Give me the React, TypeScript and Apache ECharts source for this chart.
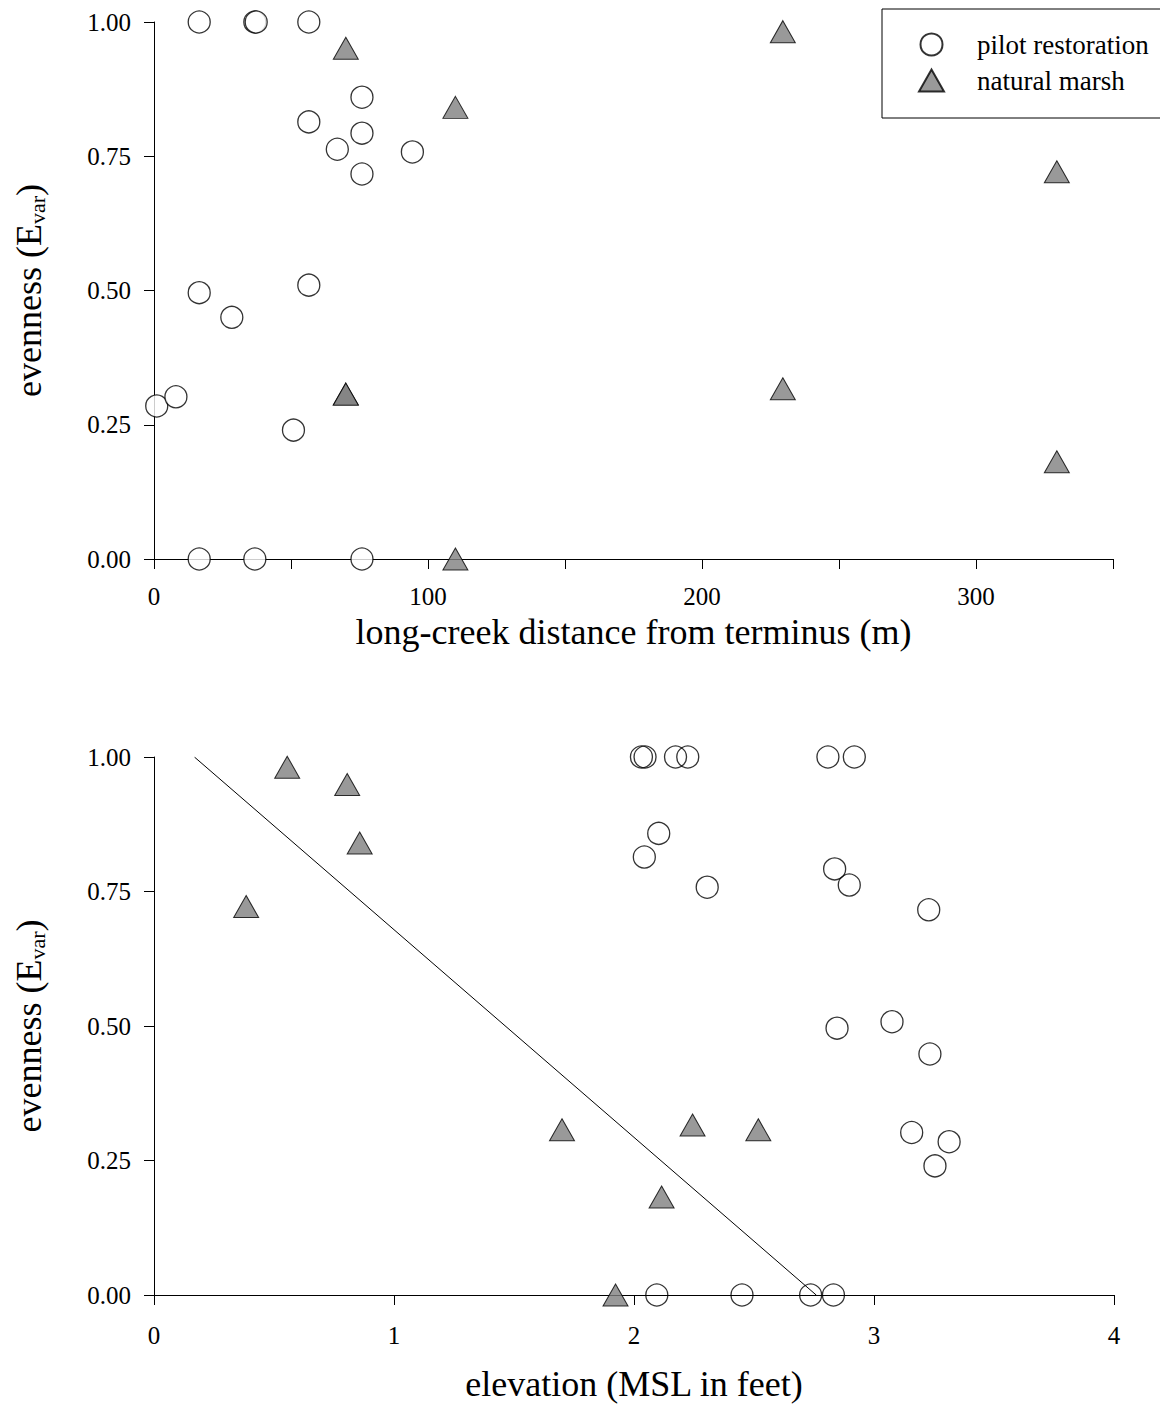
import React, { useEffect, useRef } from "react";
import * as echarts from "echarts";

const FONT = '"Liberation Serif", "Times New Roman", Times, serif';

// Upper panel: evenness vs long-creek distance from the terminus (m)
const distPilotX = [16.5, 36.8, 37.3, 56.5, 56.5, 75.9, 75.9, 66.9, 75.9, 94.3, 16.5, 28.4, 56.5, 1, 8, 50.9, 16.5, 36.8, 75.9];
const distPilotY = [1, 1, 1, 1, 0.814, 0.86, 0.793, 0.763, 0.717, 0.758, 0.496, 0.45, 0.51, 0.285, 0.302, 0.24, 0, 0, 0];
const distMarshX = [70, 110, 229.5, 329.5, 70, 70, 229.5, 329.5, 110];
const distMarshY = [0.951, 0.841, 0.982, 0.721, 0.307, 0.307, 0.317, 0.181, 0];

// Lower panel: evenness vs elevation (MSL in feet)
const elevPilotX = [2.031, 2.046, 2.173, 2.224, 2.808, 2.918, 2.103, 2.043, 2.305, 2.836, 2.897, 3.228, 2.846, 3.075, 3.233, 3.157, 3.313, 3.254, 2.095, 2.45, 2.736, 2.831];
const elevPilotY = [1, 1, 1, 1, 1, 1, 0.858, 0.814, 0.758, 0.792, 0.762, 0.716, 0.496, 0.508, 0.448, 0.302, 0.285, 0.24, 0, 0, 0, 0];
const elevMarshX = [0.555, 0.805, 0.857, 0.384, 1.7, 2.244, 2.518, 2.115, 1.923];
const elevMarshY = [0.981, 0.949, 0.84, 0.722, 0.307, 0.316, 0.307, 0.182, 0];

// Fitted line drawn over the elevation panel
const fitIntercept = 1.065;
const fitSlope = -0.386;
const fitRange = [0.169, 2.76];

const seriesNames = ["pilot restoration", "natural marsh"];
const yTitle = "{a|evenness (E}{b|var}{a|)}";
const distTitle = "long-creek distance from terminus (m)";
const elevTitle = "elevation (MSL in feet)";

const zip = (xs: number[], ys: number[]) => xs.map((x, i) => [x, ys[i]]);

const axisLine = { show: true, onZero: false, lineStyle: { color: "#000", width: 1 } };
const axisTick = { show: true, inside: false, length: 10, lineStyle: { color: "#000", width: 1 } };
const tickLabel = { color: "#000", fontFamily: FONT, fontSize: 25 };

const yAxisFor = (gridIndex: number) => ({
  type: "value",
  gridIndex,
  min: 0,
  max: 1,
  interval: 0.25,
  axisLine,
  axisTick,
  splitLine: { show: false },
  axisLabel: { ...tickLabel, margin: 23, formatter: (v: number) => v.toFixed(2) },
  name: yTitle,
  nameLocation: "middle",
  nameGap: 106,
  nameRotate: 90,
  nameTextStyle: {
    color: "#000",
    fontFamily: FONT,
    rich: {
      a: { fontFamily: FONT, fontSize: 36, lineHeight: 38, color: "#000" },
      b: { fontFamily: FONT, fontSize: 22, lineHeight: 14, color: "#000", verticalAlign: "bottom" },
    },
  },
});

const circleStyle = { color: "#fff", borderColor: "#000", borderWidth: 1.3 };
const triangleStyle = { color: "#808080", borderColor: "#000", borderWidth: 1 };

export default function App() {
  const ref = useRef<HTMLDivElement>(null);

  useEffect(() => {
    if (!ref.current) return;
    const chart = echarts.init(ref.current, null, { renderer: "svg" });

    chart.setOption({
      animation: false,
      backgroundColor: "#fff",
      grid: [
        { left: 154, top: 22, width: 959, height: 537 },
        { left: 154, top: 757, width: 960, height: 538 },
      ],
      legend: {
        data: seriesNames,
        orient: "vertical",
        left: 882,
        top: 9,
        itemWidth: 25,
        itemHeight: 22,
        itemGap: 9,
        padding: [22, 40, 24, 36],
        borderColor: "#000",
        borderWidth: 1,
        selectedMode: false,
        textStyle: { color: "#000", fontFamily: FONT, fontSize: 27, padding: [0, 0, 0, 28] },
      },
      xAxis: [
        {
          type: "value",
          gridIndex: 0,
          min: 0,
          max: 350,
          interval: 50,
          axisLine,
          axisTick,
          splitLine: { show: false },
          axisLabel: {
            ...tickLabel,
            margin: 25,
            formatter: (v: number) => (v % 100 === 0 ? String(v) : ""),
          },
          name: distTitle,
          nameLocation: "middle",
          nameGap: 54,
          nameTextStyle: { color: "#000", fontFamily: FONT, fontSize: 36, lineHeight: 38 },
        },
        {
          type: "value",
          gridIndex: 1,
          min: 0,
          max: 4,
          interval: 1,
          axisLine,
          axisTick,
          splitLine: { show: false },
          axisLabel: { ...tickLabel, margin: 28 },
          name: elevTitle,
          nameLocation: "middle",
          nameGap: 70,
          nameTextStyle: { color: "#000", fontFamily: FONT, fontSize: 36, lineHeight: 38 },
        },
      ],
      yAxis: [yAxisFor(0), yAxisFor(1)],
      series: [
        {
          name: seriesNames[0],
          type: "scatter",
          xAxisIndex: 0,
          yAxisIndex: 0,
          symbol: "circle",
          symbolSize: 22,
          itemStyle: circleStyle,
          data: zip(distPilotX, distPilotY),
        },
        {
          name: seriesNames[1],
          type: "scatter",
          xAxisIndex: 0,
          yAxisIndex: 0,
          symbol: "triangle",
          symbolSize: [25, 22],
          itemStyle: triangleStyle,
          data: zip(distMarshX, distMarshY),
        },
        {
          name: "fit",
          type: "line",
          xAxisIndex: 1,
          yAxisIndex: 1,
          showSymbol: false,
          symbol: "none",
          lineStyle: { color: "#000", width: 1 },
          data: fitRange.map((x) => [x, fitIntercept + fitSlope * x]),
          z: 1,
        },
        {
          name: seriesNames[0],
          type: "scatter",
          xAxisIndex: 1,
          yAxisIndex: 1,
          symbol: "circle",
          symbolSize: 22,
          itemStyle: { ...circleStyle, color: "rgba(255,255,255,0)" },
          data: zip(elevPilotX, elevPilotY),
          z: 3,
        },
        {
          name: seriesNames[1],
          type: "scatter",
          xAxisIndex: 1,
          yAxisIndex: 1,
          symbol: "triangle",
          symbolSize: [25, 22],
          itemStyle: triangleStyle,
          data: zip(elevMarshX, elevMarshY),
        },
      ],
    });

    return () => chart.dispose();
  }, []);

  return (
    <div
      ref={ref}
      style={{ position: "absolute", left: 0, top: 0, width: 1160, height: 1416, background: "#fff" }}
    />
  );
}
